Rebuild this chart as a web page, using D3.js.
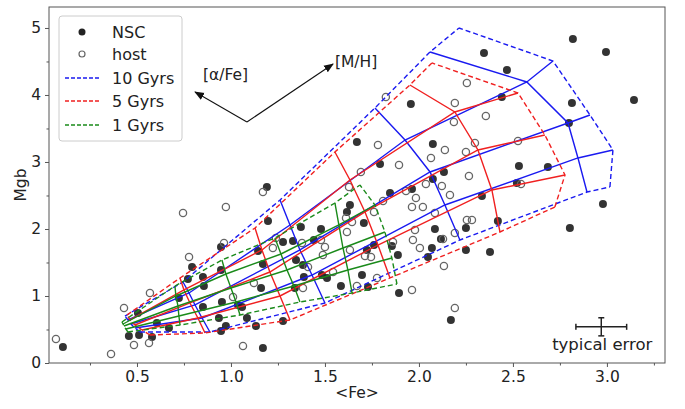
<!DOCTYPE html>
<html><head><meta charset="utf-8">
<script src="https://cdn.jsdelivr.net/npm/d3@7"></script>
<style>body{margin:0;background:#fff} svg{font-family:"DejaVu Sans",sans-serif}</style>
</head><body><svg id="c" width="685" height="409"></svg>
<script>
// ---------- data ----------
const nscPoints = [[0.106,0.239],[0.505,0.746],[0.457,0.403],[0.511,0.418],[0.580,0.388],[0.606,0.597],[0.670,0.522],
[0.947,1.731],[0.793,1.433],[0.771,1.254],[0.947,1.388],[0.851,1.284],[0.856,1.149],[0.723,0.970],[0.851,0.836],
[0.952,0.910],[0.936,0.672],[0.947,0.478],[0.973,0.552],[1.037,0.866],[1.191,2.627],[1.197,2.119],[1.144,1.672],
[1.170,1.478],[1.670,3.299],[1.793,2.970],[1.846,2.537],[1.633,2.358],[1.617,2.254],[1.707,2.090],[1.372,2.030],
[1.479,2.0],[1.330,1.821],[1.277,1.806],[1.441,1.836],[1.723,1.687],[1.761,1.761],[1.856,1.746],[1.888,1.612],
[1.346,1.537],[1.383,1.463],[1.388,1.284],[1.484,1.313],[1.511,1.269],[1.697,1.313],[1.340,1.119],[1.585,1.149],
[1.729,1.134],[2.085,2.0],[2.069,1.716],[2.250,2.015],[2.250,1.687],[2.048,1.582],[1.894,1.045],[2.170,0.642],
[1.059,0.836],[1.085,0.672],[1.133,0.552],[1.277,0.627],[1.170,0.224],[1.160,1.119],[2.074,3.269],[2.133,2.851],
[2.074,2.746],[1.963,2.597],[2.335,2.493],[2.532,2.940],[2.521,2.687],[2.686,2.925],[2.420,2.119],[2.378,1.657],
[2.346,4.627],[2.468,4.373],[2.441,3.970],[1.957,3.866],[2.819,4.836],[2.995,4.642],[3.144,3.925],[2.814,3.881],
[2.798,3.582],[2.979,2.373],[2.803,2.015],[2.117,1.851]];

const hostPoints = [[0.069,0.358],[0.362,0.134],[0.431,0.821],[0.569,1.045],[0.484,0.269],[0.564,0.299],[0.745,2.239],
[0.973,2.328],[0.963,1.791],[0.777,1.582],[1.011,0.985],[1.170,2.552],[1.239,1.866],[1.223,1.716],[1.782,3.254],
[1.691,2.851],[1.628,2.627],[1.809,2.418],[1.612,2.164],[1.644,2.104],[1.761,2.254],[1.479,1.836],[1.378,1.791],
[1.500,1.731],[1.713,1.597],[1.745,1.582],[1.862,1.806],[1.617,1.955],[1.633,1.687],[1.489,1.612],[1.410,1.433],
[1.543,1.358],[1.777,1.269],[1.383,1.119],[1.670,1.149],[1.963,2.328],[2.021,2.328],[2.085,2.239],[1.979,1.985],
[1.968,1.836],[2.005,1.716],[2.128,1.851],[2.191,1.940],[2.133,1.448],[1.963,1.090],[2.191,0.821],[1.064,0.254],
[1.122,1.194],[2.138,3.179],[2.250,3.149],[2.298,3.284],[2.527,3.313],[2.064,3.060],[1.894,2.955],[2.037,2.672],
[2.122,2.642],[2.266,2.791],[1.931,2.567],[1.984,2.463],[2.165,2.507],[2.543,2.672],[2.255,2.134],[2.282,2.134],
[2.255,4.179],[1.824,3.970],[2.191,3.881],[2.356,3.687],[2.186,3.597]];

// model grids: each column = one [M/H] value, nodes ordered from low to high [alpha/Fe]
const grid10 = [
 [[0.516,0.463],[0.489,0.522],[0.468,0.582],[0.452,0.642],[0.436,0.701]],
 [[0.888,0.463],[0.846,0.672],[0.809,0.866],[0.777,1.045],[0.745,1.209]],
 [[1.500,0.896],[1.431,1.313],[1.367,1.687],[1.314,2.060],[1.261,2.433]],
 [[2.218,1.836],[2.138,2.358],[2.059,2.851],[1.926,3.328],[1.766,3.806]],
 [[2.894,2.552],[2.846,3.060],[2.793,3.582],[2.574,4.194],[2.059,4.642]],
 [[3.016,2.627],[3.032,3.179],[2.910,3.701],[2.713,4.507],[2.213,5.0]]];
const grid5 = [
 [[0.569,0.418],[0.527,0.493],[0.489,0.567],[0.463,0.642],[0.447,0.716]],
 [[0.862,0.448],[0.824,0.672],[0.782,0.896],[0.750,1.090],[0.729,1.269]],
 [[1.314,0.642],[1.261,1.0],[1.207,1.358],[1.165,1.687],[1.128,2.015]],
 [[1.846,1.269],[1.782,1.761],[1.713,2.254],[1.633,2.731],[1.553,3.149]],
 [[2.431,1.955],[2.388,2.582],[2.314,3.179],[2.191,3.746],[1.952,4.149]],
 [[2.723,2.328],[2.777,2.806],[2.670,3.403],[2.527,4.030],[2.069,4.478]]];
const grid1 = [
 [[0.452,0.463],[0.441,0.507],[0.431,0.552],[0.426,0.582],[0.420,0.612]],
 [[0.729,0.567],[0.723,0.701],[0.718,0.851],[0.707,1.0],[0.702,1.149]],
 [[1.048,0.716],[1.027,0.910],[1.0,1.119],[0.973,1.328],[0.952,1.537]],
 [[1.367,0.910],[1.335,1.149],[1.298,1.388],[1.266,1.627],[1.234,1.866]],
 [[1.644,1.045],[1.622,1.388],[1.596,1.716],[1.574,2.060],[1.553,2.388]],
 [[1.883,1.179],[1.856,1.567],[1.819,1.955],[1.766,2.358],[1.686,2.657]]];

const modelNames = ["10 Gyrs","5 Gyrs","1 Gyrs"];
const modelColors = ["#1a1af0","#f02020","#1a8a1a"];
const xTicks = [0.5,1.0,1.5,2.0,2.5,3.0];
const xTickLabels = ["0.5","1.0","1.5","2.0","2.5","3.0"];
const yTicks = [0,1,2,3,4,5];
const yTickLabels = ["0","1","2","3","4","5"];
const errCenter = [2.97,0.54], errX = 0.135, errY = 0.135;

// ---------- drawing ----------
const svg = d3.select("#c");
const L=49,R=665,T=7,B=363;
const x = d3.scaleLinear().domain([0.032,3.309]).range([L,R]);
const y = d3.scaleLinear().domain([0,5.313]).range([B,T]);
const line = d3.line().x(d=>x(d[0])).y(d=>y(d[1]));

svg.append("clipPath").attr("id","cp").append("rect").attr("x",L).attr("y",T).attr("width",R-L).attr("height",B-T);
const plot = svg.append("g").attr("clip-path","url(#cp)");

// points
plot.selectAll("circle.nsc").data(nscPoints).enter().append("circle")
 .attr("cx",d=>x(d[0])).attr("cy",d=>y(d[1])).attr("r",4).attr("fill","#222").attr("fill-opacity",0.92);
plot.selectAll("circle.host").data(hostPoints).enter().append("circle")
 .attr("cx",d=>x(d[0])).attr("cy",d=>y(d[1])).attr("r",3.6).attr("fill","none").attr("stroke","#666").attr("stroke-width",1.3);

// grids
[grid10,grid5,grid1].forEach((g,k)=>{
  const col = modelColors[k];
  const nA = g[0].length, nZ = g.length;
  g.forEach((c,j)=>{
    plot.append("path").attr("d",line(c)).attr("fill","none").attr("stroke",col).attr("stroke-width",1.4)
      .attr("stroke-dasharray",(j===nZ-1||j===0)?"5,3":null);
  });
  for(let i=0;i<nA;i++){
    const row = g.map(c=>c[i]);
    plot.append("path").attr("d",line(row)).attr("fill","none").attr("stroke",col).attr("stroke-width",1.4)
      .attr("stroke-dasharray",(i===0||i===nA-1)?"5,3":null);
  }
});

// error bar
const eg = svg.append("g").attr("stroke","#222").attr("stroke-width",1.5);
eg.append("line").attr("x1",x(errCenter[0]-errX)).attr("x2",x(errCenter[0]+errX)).attr("y1",y(errCenter[1])).attr("y2",y(errCenter[1]));
eg.append("line").attr("x1",x(errCenter[0])).attr("x2",x(errCenter[0])).attr("y1",y(errCenter[1]-errY)).attr("y2",y(errCenter[1]+errY));
[errCenter[0]-errX,errCenter[0]+errX].forEach(v=>eg.append("line").attr("x1",x(v)).attr("x2",x(v)).attr("y1",y(errCenter[1])-3).attr("y2",y(errCenter[1])+3));
[errCenter[1]-errY,errCenter[1]+errY].forEach(v=>eg.append("line").attr("y1",y(v)).attr("y2",y(v)).attr("x1",x(errCenter[0])-3).attr("x2",x(errCenter[0])+3));
svg.append("text").attr("x",x(errCenter[0])+1).attr("y",350).attr("text-anchor","middle").attr("font-size",16.5).attr("fill","#222").text("typical error");

// arrows
const defs = svg.append("defs");
defs.append("marker").attr("id","ah").attr("viewBox","0 0 10 10").attr("refX",9).attr("refY",5)
 .attr("markerWidth",9).attr("markerHeight",9).attr("orient","auto-start-reverse")
 .append("path").attr("d","M0,1 L10,5 L0,9 Z").attr("fill","#111");
const arrowOrigin=[1.085,3.597], arrowA=[0.809,4.045], arrowM=[1.543,4.463];
[arrowA,arrowM].forEach(p=>svg.append("line").attr("x1",x(arrowOrigin[0])).attr("y1",y(arrowOrigin[1]))
 .attr("x2",x(p[0])).attr("y2",y(p[1])).attr("stroke","#111").attr("stroke-width",1.1).attr("marker-end","url(#ah)"));
svg.append("text").attr("x",x(0.851)).attr("y",y(4.22)).attr("font-size",15.5).attr("fill","#222").text("[α/Fe]");
svg.append("text").attr("x",x(1.553)).attr("y",y(4.42)).attr("font-size",15.5).attr("fill","#222").text("[M/H]");

// frame & axes
svg.append("rect").attr("x",L).attr("y",T).attr("width",R-L).attr("height",B-T).attr("fill","none").attr("stroke","#555").attr("stroke-width",1);
const gx = svg.append("g").attr("transform",`translate(0,${B})`)
  .call(d3.axisBottom(x).tickValues(xTicks).tickFormat((d,i)=>xTickLabels[i]).tickSize(4).tickPadding(4));
const gy = svg.append("g").attr("transform",`translate(${L},0)`)
  .call(d3.axisLeft(y).tickValues(yTicks).tickFormat((d,i)=>yTickLabels[i]).tickSize(4).tickPadding(4));
const xMinor = d3.range(0.25,3.3,0.5);
const yMinor = d3.range(0.5,5.3,1);
svg.append("g").attr("transform",`translate(0,${B})`).call(d3.axisBottom(x).tickValues(xMinor).tickSize(2.5).tickFormat(""));
svg.append("g").attr("transform",`translate(${L},0)`).call(d3.axisLeft(y).tickValues(yMinor).tickSize(2.5).tickFormat(""));
svg.selectAll(".domain").remove();
svg.selectAll(".tick line").attr("stroke","#555");
[gx,gy].forEach(g=>g.selectAll("text").attr("font-size",15.5).attr("fill","#222").attr("font-family","DejaVu Sans"));

svg.append("text").attr("x",(L+R)/2).attr("y",398).attr("text-anchor","middle").attr("font-size",15.5).attr("fill","#222").text("<Fe>");
svg.append("text").attr("transform",`translate(26,${(T+B)/2}) rotate(-90)`).attr("text-anchor","middle").attr("font-size",15.5).attr("fill","#222").text("Mgb");

// legend
const lg = svg.append("g");
lg.append("rect").attr("x",59).attr("y",16).attr("width",123).attr("height",125).attr("rx",3).attr("fill","#fff").attr("fill-opacity",0.85).attr("stroke","#ccc");
const rowsY=[32,54,78,101,125];
lg.append("circle").attr("cx",82).attr("cy",rowsY[0]).attr("r",3.5).attr("fill","#222");
lg.append("circle").attr("cx",82).attr("cy",rowsY[1]).attr("r",3).attr("fill","none").attr("stroke","#666").attr("stroke-width",1.2);
modelNames.forEach((n,i)=>{
  lg.append("line").attr("x1",65).attr("x2",99).attr("y1",rowsY[i+2]).attr("y2",rowsY[i+2]).attr("stroke",modelColors[i]).attr("stroke-width",1.3).attr("stroke-dasharray","4,2");
});
["NSC","host"].concat(modelNames).forEach((t,i)=>lg.append("text").attr("x",112).attr("y",rowsY[i]+5.5).attr("font-size",16).attr("fill","#222").text(t));
</script></body></html>
